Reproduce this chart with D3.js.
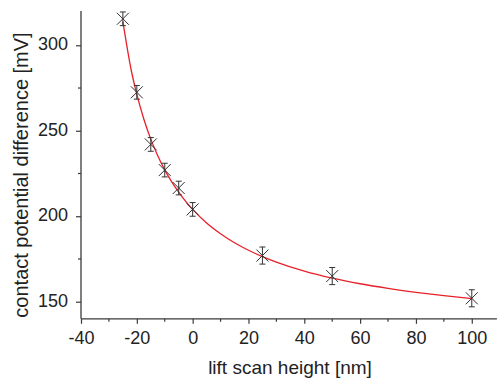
<!DOCTYPE html>
<html><head><meta charset="utf-8">
<script src="https://cdn.jsdelivr.net/npm/d3@7"></script>
<style>
body{margin:0;background:#fff;}
svg{display:block;font-family:"Liberation Sans",Arial,sans-serif;}
</style></head>
<body><svg id="c" width="497" height="381"></svg>
<script>
// measured points
const liftHeight = [-25, -20, -15, -10, -5, 0, 25, 50, 100];
const cpd = [315.5, 272.5, 242, 227, 216.5, 204, 177, 165, 152];
const cpdErr = [4, 4, 4, 4, 4, 4, 5, 5, 5];
// fitted curve
const fitX = [-25, -22, -20, -17.5, -15, -12.5, -10, -7.5, -5, -2.5, 0, 5, 10, 15, 20, 25, 30, 40, 50, 60, 70, 80, 90, 100];
const fitY = [314, 285.4, 271.3, 256.9, 245.1, 235.4, 227.1, 220.1, 214.1, 208.7, 204.0, 196.1, 189.8, 184.5, 180.1, 176.4, 173.2, 167.9, 163.8, 160.5, 157.8, 155.5, 153.5, 151.8];
const xTicks = [-40, -20, 0, 20, 40, 60, 80, 100];
const xMinor = [-30, -10, 10, 30, 50, 70, 90];
const yTicks = [150, 200, 250, 300];
const yMinor = [175, 225, 275];

const svg = d3.select("#c");
const x = d3.scaleLinear().domain([-40, 109]).range([81, 496.9]);
const y = d3.scaleLinear().domain([140, 320]).range([318.8, 11.1]);
const axisCol = "#3a3a3a", textCol = "#222";

// axes
const gx = svg.append("g").attr("transform", `translate(0,${y(140)})`)
  .call(d3.axisBottom(x).tickValues(xTicks).tickSize(5).tickFormat(d => String(d)));
gx.append("g").selectAll("line").data(xMinor).join("line")
  .attr("x1", d => x(d)).attr("x2", d => x(d)).attr("y1", 0).attr("y2", 3);
const gy = svg.append("g").attr("transform", `translate(${x(-40)},0)`)
  .call(d3.axisLeft(y).tickValues(yTicks).tickSize(5));
gy.append("g").selectAll("line").data(yMinor).join("line")
  .attr("y1", d => y(d)).attr("y2", d => y(d)).attr("x1", 0).attr("x2", -3);
[gx, gy].forEach(g => {
  g.select(".domain").attr("stroke", axisCol).attr("stroke-width", 1.3)
   .attr("d", g === gx ? `M${x(-40)},0H${x(109)}` : `M0,${y(140)}V${y(320)}`);
  g.selectAll("line").attr("stroke", axisCol).attr("stroke-width", 1.2);
  g.selectAll("text").attr("fill", textCol).attr("font-size", 18)
   .attr("font-family", "Liberation Sans, Arial, sans-serif");
});
gx.selectAll(".tick text").attr("y", 25.2).attr("dy", 0);
gy.selectAll(".tick text").attr("x", -13).attr("dy", "0.25em");

// fit curve
const fit = fitX.map((v, i) => [v, fitY[i]]);
svg.append("path").datum(fit)
  .attr("fill", "none").attr("stroke", "#e8202a").attr("stroke-width", 1.3)
  .attr("d", d3.line().x(d => x(d[0])).y(d => y(d[1])).curve(d3.curveMonotoneX));

// data points with error bars and X markers
const pts = liftHeight.map((v, i) => ({x: v, y: cpd[i], e: cpdErr[i]}));
const g = svg.append("g").attr("stroke", "#333").attr("stroke-width", 1).attr("fill", "none");
pts.forEach(p => {
  const cx = x(p.x), cy = y(p.y), t = y(p.y + p.e), b = y(p.y - p.e);
  g.append("path").attr("d", `M${cx},${t}V${b}M${cx-3},${t}H${cx+3}M${cx-3},${b}H${cx+3}`);
  const s = 6;
  g.append("path").attr("d", `M${cx-s},${cy-s}L${cx+s},${cy+s}M${cx-s},${cy+s}L${cx+s},${cy-s}`);
});

// labels
svg.append("text").attr("x", 290).attr("y", 374).attr("text-anchor", "middle")
  .attr("font-size", 19).attr("fill", textCol).text("lift scan height [nm]");
svg.append("text").attr("transform", "translate(28,175) rotate(-90)").attr("text-anchor", "middle")
  .attr("font-size", 20).attr("fill", textCol).text("contact potential difference [mV]");
</script></body></html>
